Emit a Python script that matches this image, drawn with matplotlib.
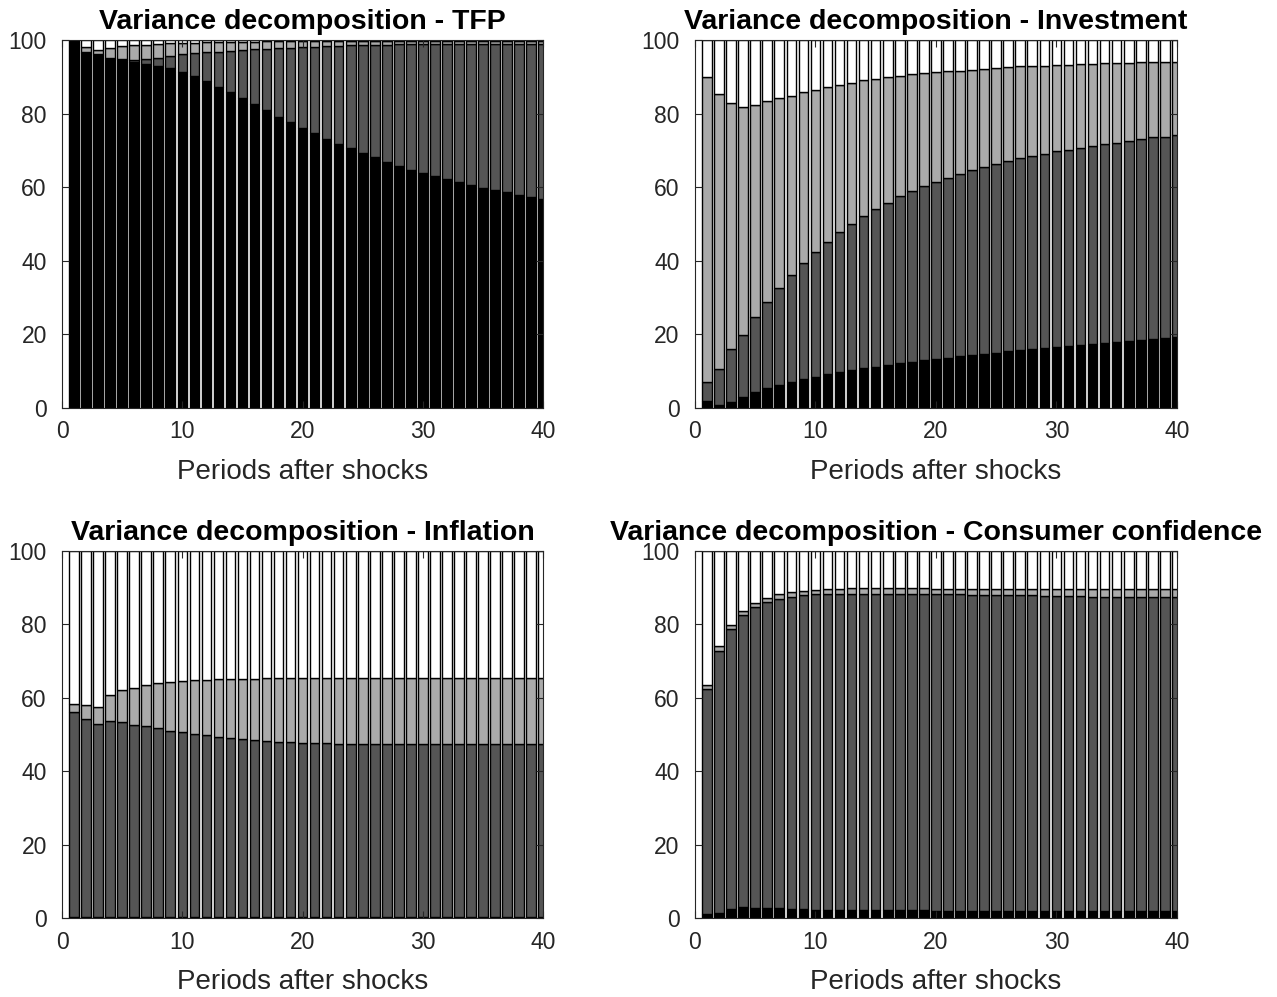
import numpy as np
import matplotlib.pyplot as plt

plt.rcParams['font.family'] = ['Liberation Sans', 'DejaVu Sans']

periods = np.arange(1, 41)

# shock shares (percent) per panel: shock 1 (black), shock 2 (dark grey), shock 3 (light grey)
# the remaining share (white) is 100 minus the rest

# TFP
tfp_s1 = [100, 96.5, 95.9, 95.0, 94.6, 94.1, 93.4, 93.0, 92.3, 91.3,
          90.2, 88.9, 87.3, 85.8, 84.2, 82.5, 80.9, 79.2, 77.6, 76.2,
          74.6, 73.2, 71.8, 70.6, 69.3, 68.1, 66.9, 65.8, 64.8, 63.9,
          63.0, 62.1, 61.4, 60.6, 59.9, 59.2, 58.6, 58.0, 57.4, 56.9]
tfp_s2 = [0, 0.1, 0.2, 0.2, 0.3, 0.4, 1.3, 2.2, 3.4, 4.8,
          6.2, 7.7, 9.5, 11.3, 13.1, 15.0, 16.7, 18.5, 20.3, 21.8,
          23.6, 25.1, 26.6, 27.9, 29.3, 30.6, 31.8, 33.0, 34.0, 35.0,
          35.9, 36.8, 37.5, 38.4, 39.1, 39.8, 40.4, 41.0, 41.6, 42.1]
tfp_s3 = [0, 1.4, 1.2, 2.6, 3.5, 4.0, 4.0, 3.7, 3.4, 3.1,
          2.9, 2.8, 2.6, 2.4, 2.2, 2.0, 2.0, 1.9, 1.7, 1.6,
          1.4, 1.3, 1.2, 1.1, 1.0, 1.0, 1.0, 0.9, 0.9, 0.8,
          0.8, 0.8, 0.8, 0.7, 0.7, 0.7, 0.7, 0.7, 0.7, 0.7]

# Investment
inv_s1 = [1.8, 0.9, 1.6, 3.0, 4.3, 5.3, 6.3, 7.1, 7.9, 8.5,
          9.2, 9.8, 10.3, 10.8, 11.2, 11.8, 12.1, 12.5, 13.0, 13.3,
          13.7, 14.0, 14.4, 14.8, 15.0, 15.4, 15.7, 16.0, 16.4, 16.7,
          16.9, 17.2, 17.5, 17.7, 18.0, 18.3, 18.5, 18.8, 19.0, 19.3]
inv_s2 = [5.3, 9.6, 14.3, 16.9, 20.3, 23.5, 26.4, 29.0, 31.6, 34.0,
          36.0, 37.9, 39.7, 41.4, 42.8, 44.0, 45.4, 46.5, 47.3, 48.2,
          48.9, 49.6, 50.2, 50.8, 51.3, 51.6, 52.1, 52.4, 52.7, 53.0,
          53.3, 53.5, 53.8, 54.0, 54.1, 54.3, 54.5, 54.7, 54.7, 54.8]
inv_s3 = [82.8, 74.8, 66.9, 61.8, 57.8, 54.5, 51.4, 48.8, 46.3, 43.9,
          42.0, 40.2, 38.4, 36.8, 35.4, 34.1, 32.8, 31.7, 30.6, 29.7,
          28.9, 28.1, 27.3, 26.6, 26.1, 25.6, 25.0, 24.5, 23.9, 23.5,
          23.1, 22.8, 22.3, 22.0, 21.6, 21.2, 20.9, 20.5, 20.3, 19.9]

# Inflation
inf_s1 = [0.3] * 40
inf_s2 = [55.8, 53.8, 52.6, 53.4, 53.2, 52.4, 51.9, 51.5, 50.8, 50.4,
          49.9, 49.5, 49.0, 48.7, 48.5, 48.2, 48.0, 47.8, 47.6, 47.5,
          47.4, 47.3, 47.2, 47.2, 47.1, 47.1, 47.1, 47.0, 47.0, 47.0,
          47.0, 47.0, 47.0, 47.0, 47.0, 47.0, 47.0, 47.0, 47.0, 47.0]
inf_s3 = [2.2, 3.9, 4.6, 7.0, 8.7, 10.1, 11.2, 12.2, 13.3, 14.0,
          14.7, 15.1, 15.7, 16.1, 16.4, 16.7, 17.0, 17.2, 17.4, 17.5,
          17.7, 17.8, 17.9, 17.9, 18.0, 18.0, 18.0, 18.1, 18.1, 18.1,
          18.1, 18.1, 18.1, 18.1, 18.1, 18.1, 18.1, 18.1, 18.1, 18.1]

# Consumer confidence
cc_s1 = [1.0, 1.4, 2.5, 2.9, 2.8, 2.7, 2.6, 2.5, 2.4, 2.3,
         2.2, 2.1, 2.1, 2.1, 2.1, 2.1, 2.1, 2.1, 2.1, 2.0,
         2.0, 2.0, 2.0, 2.0, 2.0, 2.0, 2.0, 2.0, 2.0, 2.0,
         2.0, 2.0, 2.0, 2.0, 2.0, 2.0, 2.0, 2.0, 2.0, 2.0]
cc_s2 = [61.5, 71.3, 76.2, 79.7, 81.9, 83.4, 84.3, 85.0, 85.6, 85.9,
         86.2, 86.3, 86.3, 86.3, 86.3, 86.2, 86.2, 86.2, 86.2, 86.3,
         86.2, 86.2, 86.1, 86.1, 86.0, 86.0, 85.9, 85.9, 85.8, 85.8,
         85.7, 85.7, 85.6, 85.6, 85.6, 85.5, 85.5, 85.5, 85.4, 85.4]
cc_s3 = [0.9, 1.4, 1.1, 1.1, 1.2, 1.0, 1.3, 1.3, 1.1, 1.2,
         1.2, 1.3, 1.4, 1.4, 1.4, 1.5, 1.5, 1.5, 1.5, 1.4,
         1.5, 1.5, 1.6, 1.6, 1.7, 1.7, 1.8, 1.8, 1.9, 1.9,
         2.0, 2.0, 2.0, 2.0, 2.1, 2.1, 2.1, 2.1, 2.2, 2.2]

titles = ["Variance decomposition - TFP",
          "Variance decomposition - Investment",
          "Variance decomposition - Inflation",
          "Variance decomposition - Consumer confidence"]
panels = [(tfp_s1, tfp_s2, tfp_s3), (inv_s1, inv_s2, inv_s3),
          (inf_s1, inf_s2, inf_s3), (cc_s1, cc_s2, cc_s3)]
colors = ["#000000", "#555555", "#aaaaaa", "#ffffff"]

# axes boxes in figure fractions (left, bottom, width, height)
boxes = [(0.0486, 0.5908, 0.3767, 0.3691), (0.5442, 0.5908, 0.3774, 0.3691),
         (0.0486, 0.0792, 0.3767, 0.3681), (0.5442, 0.0792, 0.3774, 0.3681)]

fig = plt.figure(figsize=(12.77, 9.97), dpi=100)

for box, title, series in zip(boxes, titles, panels):
    ax = fig.add_axes(box)
    s1, s2, s3 = [np.array(s, dtype=float) for s in series]
    rest = 100 - s1 - s2 - s3
    bottom = np.zeros(len(periods))
    for vals, c in zip([s1, s2, s3, rest], colors):
        ax.bar(periods, vals, width=0.8, bottom=bottom, color=c,
               edgecolor="black", linewidth=1.0)
        bottom = bottom + vals
    ax.set_xlim(0, 40)
    ax.set_ylim(0, 100)
    ax.set_xticks([0, 10, 20, 30, 40])
    ax.set_yticks([0, 20, 40, 60, 80, 100])
    ax.tick_params(direction="in", top=True, right=True, length=5,
                   width=0.8, labelsize=16.5, colors="#262626")
    ax.tick_params(axis="x", pad=9)
    ax.tick_params(axis="y", pad=11)
    for sp in ax.spines.values():
        sp.set_color("#262626")
        sp.set_linewidth(0.8)
    ax.set_title(title, fontsize=20.5, fontweight="bold", pad=8)
    ax.set_xlabel("Periods after shocks", fontsize=20, labelpad=11, color="#262626")

fig.savefig("out.png", dpi=100)
